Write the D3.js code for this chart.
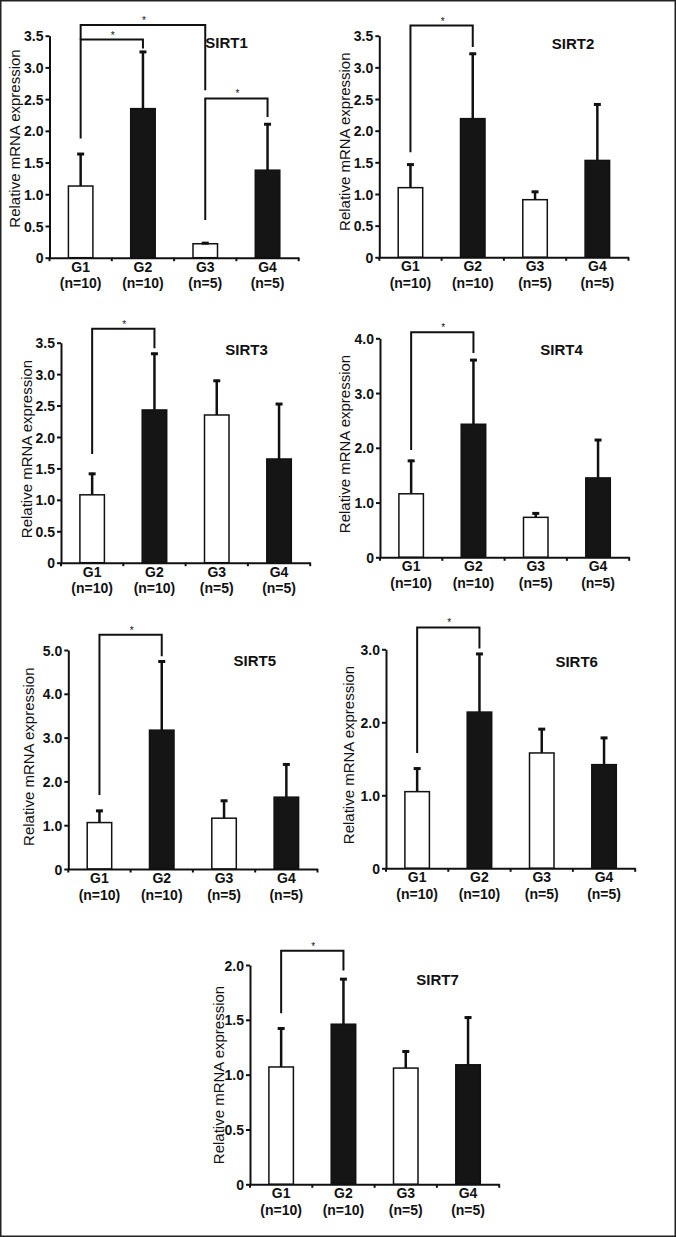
<!DOCTYPE html>
<html>
<head>
<meta charset="utf-8">
<script src="https://cdn.jsdelivr.net/npm/d3@7"></script>
<style>
  html, body { margin: 0; padding: 0; background: #fff; }
  svg { display: block; }
  text { font-family: "Liberation Sans", Arial, sans-serif; fill: #111; }
</style>
</head>
<body>
<svg id="chart" width="676" height="1237"></svg>
<script>
// ---------------- data ----------------
const groups = ["G1", "G2", "G3", "G4"];
const groupN = ["(n=10)", "(n=10)", "(n=5)", "(n=5)"];
const genes = ["SIRT1", "SIRT2", "SIRT3", "SIRT4", "SIRT5", "SIRT6", "SIRT7"];

const sirt1Mean = [1.13, 2.35, 0.22, 1.38];
const sirt2Mean = [1.10, 2.19, 0.91, 1.53];
const sirt3Mean = [1.08, 2.43, 2.35, 1.65];
const sirt4Mean = [1.16, 2.43, 0.73, 1.45];
const sirt5Mean = [1.06, 3.17, 1.16, 1.64];
const sirt6Mean = [1.05, 2.14, 1.58, 1.42];
const sirt7Mean = [1.07, 1.46, 1.06, 1.09];

const sirt1Err = [0.52, 0.91, 0.025, 0.74];
const sirt2Err = [0.38, 1.04, 0.14, 0.90];
const sirt3Err = [0.35, 0.91, 0.56, 0.89];
const sirt4Err = [0.62, 1.19, 0.09, 0.71];
const sirt5Err = [0.29, 1.59, 0.42, 0.77];
const sirt6Err = [0.33, 0.81, 0.34, 0.38];
const sirt7Err = [0.36, 0.42, 0.16, 0.44];

const ticksHalf = [0, 0.5, 1.0, 1.5, 2.0, 2.5, 3.0, 3.5];
const ticksFour = [0, 1.0, 2.0, 3.0, 4.0];
const ticksFive = [0, 1.0, 2.0, 3.0, 4.0, 5.0];
const ticksThree = [0, 1.0, 2.0, 3.0];
const ticksTwo = [0, 0.5, 1.0, 1.5, 2.0];

// significance brackets: [fromGroup, toGroup, leftFoot, top, rightFoot] (value units)
const sirt1Sig = [[0, 1, 1.88, 3.44, 3.30], [0, 2, 3.44, 3.67, 2.64], [2, 3, 0.594, 2.51, 2.22]];
const sirt2Sig = [[0, 1, 1.66, 3.66, 3.32]];
const sirt3Sig = [[0, 1, 1.73, 3.72, 3.41]];
const sirt4Sig = [[0, 1, 1.96, 4.11, 3.73]];
const sirt5Sig = [[0, 1, 1.69, 5.35, 4.86]];
const sirt6Sig = [[0, 1, 1.58, 3.30, 3.01]];
const sirt7Sig = [[0, 1, 1.56, 2.13, 1.95]];

const meansByGene = [sirt1Mean, sirt2Mean, sirt3Mean, sirt4Mean, sirt5Mean, sirt6Mean, sirt7Mean];
const errsByGene = [sirt1Err, sirt2Err, sirt3Err, sirt4Err, sirt5Err, sirt6Err, sirt7Err];
const ticksByGene = [ticksHalf, ticksHalf, ticksHalf, ticksFour, ticksFive, ticksThree, ticksTwo];
const sigByGene = [sirt1Sig, sirt2Sig, sirt3Sig, sirt4Sig, sirt5Sig, sirt6Sig, sirt7Sig];

// ---------------- layout ----------------
const layout = [
  { ax: 49.5,  y0: 257.7,  yTop: 35.7,  lab: [226.5, 43.0],  tit: [15.0, 138.5] },
  { ax: 379.3, y0: 257.3,  yTop: 35.7,  lab: [573.0, 43.3],  tit: [345.0, 141.7] },
  { ax: 61.0,  y0: 562.7,  yTop: 342.7, lab: [246.5, 349.3], tit: [26.7, 449.0] },
  { ax: 380.0, y0: 557.3,  yTop: 338.3, lab: [561.5, 349.3], tit: [345.0, 444.0] },
  { ax: 68.3,  y0: 869.0,  yTop: 650.0, lab: [254.8, 661.0], tit: [28.3, 756.7] },
  { ax: 386.0, y0: 868.3,  yTop: 649.3, lab: [576.7, 661.7], tit: [348.3, 755.0] },
  { ax: 250.0, y0: 1184.3, yTop: 965.0, lab: [437.5, 980.0], tit: [218.3, 1075.0] }
];
const STEP = 62.3, BARW = 26, INK = "#111";

const svg = d3.select("#chart");
svg.append("rect").attr("x", 0.75).attr("y", 0.75).attr("width", 674.5).attr("height", 1235.5)
  .attr("fill", "#fff").attr("stroke", "#222").attr("stroke-width", 1.5);

genes.forEach((gene, gi) => {
  const L = layout[gi];
  const means = meansByGene[gi], errs = errsByGene[gi], ticks = ticksByGene[gi];
  const g = svg.append("g");

  const x = d3.scaleBand().domain(groups).range([L.ax, L.ax + STEP * groups.length]).padding(0);
  const y = d3.scaleLinear().domain([0, d3.max(ticks)]).range([L.y0, L.yTop]);
  const cx = k => x(groups[k]) + x.bandwidth() / 2;

  // bars
  g.selectAll("rect.bar").data(means).join("rect")
    .attr("x", (d, i) => cx(i) - BARW / 2 + 0.75)
    .attr("width", BARW - 1.5)
    .attr("y", d => y(d))
    .attr("height", d => L.y0 - y(d))
    .attr("fill", (d, i) => i % 2 === 0 ? "#fff" : "#151515")
    .attr("stroke", INK).attr("stroke-width", 1.5);

  // error bars
  const eb = g.selectAll("g.err").data(means).join("g");
  eb.append("line")
    .attr("x1", (d, i) => cx(i)).attr("x2", (d, i) => cx(i))
    .attr("y1", d => y(d)).attr("y2", (d, i) => y(d + errs[i]))
    .attr("stroke", INK).attr("stroke-width", 2.5);
  eb.append("line")
    .attr("x1", (d, i) => cx(i) - 3.5).attr("x2", (d, i) => cx(i) + 3.5)
    .attr("y1", (d, i) => y(d + errs[i]) + 1).attr("y2", (d, i) => y(d + errs[i]) + 1)
    .attr("stroke", INK).attr("stroke-width", 3);

  // y axis
  const yAxis = d3.axisLeft(y).tickValues(ticks).tickSize(4).tickSizeOuter(0)
    .tickFormat(d => d === 0 ? "0" : d3.format(".1f")(d));
  const ya = g.append("g").attr("transform", `translate(${L.ax},0)`).call(yAxis);
  ya.select(".domain").attr("stroke", INK).attr("stroke-width", 2);
  ya.selectAll(".tick line").attr("stroke", INK).attr("stroke-width", 2);
  ya.selectAll(".tick text").attr("x", -6).attr("dy", "0.36em")
    .style("font-size", "14px").style("font-weight", "bold").attr("fill", INK)
    .style("font-family", "'Liberation Sans', Arial, sans-serif");

  // x axis (band boundaries as ticks)
  const xa = g.append("g").attr("transform", `translate(0,${L.y0})`)
    .call(d3.axisBottom(x).tickSize(0).tickSizeOuter(0).tickFormat(""));
  xa.select(".domain").attr("stroke", INK).attr("stroke-width", 2);
  const bounds = d3.range(groups.length + 1).map(k => L.ax + k * x.step());
  xa.selectAll("line.bt").data(bounds).join("line")
    .attr("x1", d => d).attr("x2", d => d).attr("y1", 0).attr("y2", 3.5)
    .attr("stroke", INK).attr("stroke-width", 2);
  xa.selectAll("text.g").data(groups).join("text")
    .attr("x", (d, i) => cx(i)).attr("y", 14).attr("text-anchor", "middle")
    .style("font-size", "14px").style("font-weight", "bold").text(d => d);
  xa.selectAll("text.n").data(groupN).join("text")
    .attr("x", (d, i) => cx(i)).attr("y", 30.5).attr("text-anchor", "middle")
    .style("font-size", "14px").style("font-weight", "bold").text(d => d);

  // y title
  g.append("text")
    .attr("transform", `translate(${L.tit[0]},${L.tit[1]}) rotate(-90)`)
    .attr("text-anchor", "middle").attr("dy", "0.35em")
    .style("font-size", "15px").text("Relative mRNA expression");

  // gene label
  g.append("text").attr("x", L.lab[0]).attr("y", L.lab[1]).attr("dy", "0.35em")
    .attr("text-anchor", "middle").style("font-size", "15px").style("font-weight", "bold").text(gene);

  // significance brackets
  sigByGene[gi].forEach(s => {
    const [a, b, lf, top, rf] = s;
    const xa1 = cx(a), xb1 = cx(b);
    g.append("path")
      .attr("d", `M${xa1},${y(lf)}V${y(top)}H${xb1}V${y(rf)}`)
      .attr("fill", "none").attr("stroke", INK).attr("stroke-width", 2);
    g.append("text").attr("x", (xa1 + xb1) / 2 + 1).attr("y", y(top) - 1)
      .attr("text-anchor", "middle").style("font-size", "10px").text("*");
  });
});
</script>
</body>
</html>
